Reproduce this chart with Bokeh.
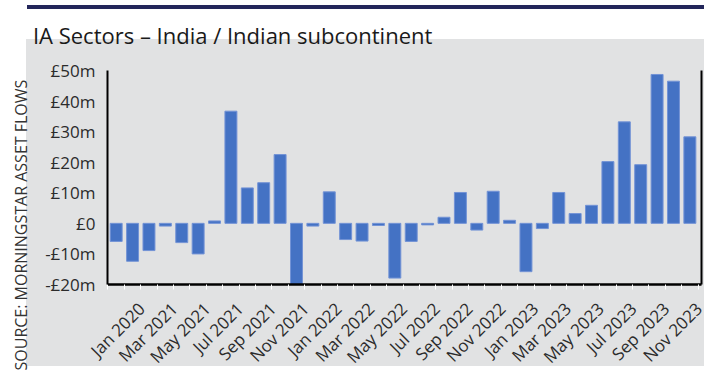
import math
from bokeh.plotting import figure
from bokeh.models import (Range1d, FixedTicker, LinearAxis, Title,
                          CustomJSTickFormatter, ColumnDataSource)
from bokeh.embed import file_html
from bokeh.resources import INLINE

# ---------------- data ----------------
months = ["Jan 2021", "Feb 2021", "Mar 2021", "Apr 2021", "May 2021", "Jun 2021",
          "Jul 2021", "Aug 2021", "Sep 2021", "Oct 2021", "Nov 2021", "Dec 2021",
          "Jan 2022", "Feb 2022", "Mar 2022", "Apr 2022", "May 2022", "Jun 2022",
          "Jul 2022", "Aug 2022", "Sep 2022", "Oct 2022", "Nov 2022", "Dec 2022",
          "Jan 2023", "Feb 2023", "Mar 2023", "Apr 2023", "May 2023", "Jun 2023",
          "Jul 2023", "Aug 2023", "Sep 2023", "Oct 2023", "Nov 2023", "Dec 2023"]
flows = [-5.9, -12.4, -8.9, -0.9, -6.3, -10.0, 0.8, 36.7, 11.6, 13.3, 22.5, -21.0,
         -0.9, 10.3, -5.3, -5.8, -0.7, -17.9, -5.9, -0.5, 2.0, 10.1, -2.2, 10.5,
         1.0, -15.8, -1.7, 10.1, 3.2, 5.9, 20.2, 33.2, 19.2, 48.7, 46.5, 28.3]
x_tick_labels = ["Jan 2020", "Mar 2021", "May 2021", "Jul 2021", "Sep 2021", "Nov 2021",
                 "Jan 2022", "Mar 2022", "May 2022", "Jul 2022", "Sep 2022", "Nov 2022",
                 "Jan 2023", "Mar 2023", "May 2023", "Jul 2023", "Sep 2023", "Nov 2023"]
y_ticks = [-20, -10, 0, 10, 20, 30, 40, 50]
y_tick_labels = ["-£20m", "-£10m", "£0", "£10m", "£20m", "£30m", "£40m", "£50m"]
title_text = "IA Sectors – India / Indian subcontinent"
source_text = "SOURCE: MORNINGSTAR ASSET FLOWS"

# ---------------- style ----------------
GRAY = "#e1e2e3"
NAVY = "#23265a"
BAR = "#4472c4"
TXT = "#2b2b2b"
FONT = "Open Sans"
LABEL_OFFSET = 1.55

idx = list(range(len(months)))
src = ColumnDataSource(dict(x=idx, y=flows, month=months))

p = figure(output_backend="svg", toolbar_location=None,
           x_range=Range1d(-0.53, 35.71), y_range=Range1d(-20, 50),
           frame_width=594, frame_height=214,
           min_border_left=0, min_border_right=8, min_border_top=70, min_border_bottom=89,
           x_axis_type=None, y_axis_type=None)
p.border_fill_color = None
p.background_fill_color = GRAY
p.outline_line_color = None
# page decoration: white page, navy rule and grey chart panel behind the canvas
p.styles = {
    "background-color": "white",
    "background-image": f"linear-gradient({NAVY}, {NAVY}), linear-gradient({GRAY}, {GRAY})",
    "background-size": "677px 4px, 678px 327px",
    "background-position": "27px 5px, 26px 39px",
    "background-repeat": "no-repeat",
}

p.vbar(x="x", top="y", bottom=0, width=0.73, source=src,
       fill_color=BAR, line_color="#7393d6", line_width=1)

# ---- left side: y axis, then source note (outermost) ----
yax = LinearAxis(ticker=FixedTicker(ticks=y_ticks),
                 major_label_overrides={t: l for t, l in zip(y_ticks, y_tick_labels)})
yax.axis_line_color = "black"
yax.axis_line_width = 2
yax.major_tick_line_color = None
yax.major_tick_out = 0
yax.minor_tick_line_color = None
yax.minor_tick_out = 0
yax.major_label_standoff = 12
yax.major_label_text_font = FONT
yax.major_label_text_font_size = "17px"
yax.major_label_text_color = TXT
p.add_layout(yax, "left")
p.add_layout(Title(text=source_text, align="left", vertical_align="top", offset=-86, standoff=18,
                   text_font=FONT, text_font_size="16px", text_font_style="normal",
                   text_color="#333333"), "left")

# ---- top: title ----
p.add_layout(Title(text=title_text, align="left", vertical_align="top", offset=-74.6, standoff=37,
                   text_font=FONT, text_font_size="22px", text_font_style="normal",
                   text_color="#1a1a1a"), "above")

rax = LinearAxis(ticker=FixedTicker(ticks=[]))
rax.axis_line_color = "black"
rax.axis_line_width = 2
rax.major_tick_line_color = None
rax.minor_tick_line_color = None
rax.major_tick_out = 0
rax.major_label_standoff = 0
rax.major_label_text_font_size = "0px"
p.add_layout(rax, "right")

label_ticks = [i * 2 + LABEL_OFFSET for i in range(len(x_tick_labels))]
xax = LinearAxis(ticker=FixedTicker(ticks=label_ticks,
                                    minor_ticks=[i - 0.5 for i in range(len(months) + 1)]),
                 formatter=CustomJSTickFormatter(args=dict(labels=x_tick_labels, off=LABEL_OFFSET),
                                                 code="return labels[Math.round((tick - off) / 2)] || ''"))
xax.axis_line_color = "black"
xax.axis_line_width = 2.5
xax.major_tick_line_color = None
xax.major_tick_out = 0
xax.minor_tick_line_color = "white"
xax.minor_tick_out = 5
xax.minor_tick_in = 0
xax.major_label_orientation = math.pi / 4
xax.major_label_standoff = 16
xax.major_label_text_font = FONT
xax.major_label_text_font_size = "17px"
xax.major_label_text_color = TXT
p.add_layout(xax, "below")

p.ygrid.ticker = FixedTicker(ticks=y_ticks)
p.ygrid.grid_line_color = "white"
p.ygrid.grid_line_width = 2
p.xgrid.grid_line_color = None

open("out.html", "w").write(file_html(p, INLINE))
